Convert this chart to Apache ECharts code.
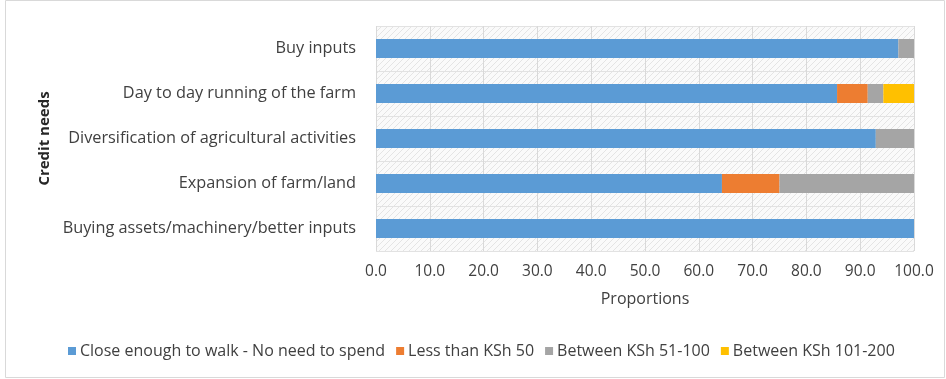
<!DOCTYPE html>
<html><head><meta charset="utf-8">
<script src="https://cdn.jsdelivr.net/npm/echarts@6/dist/echarts.min.js"></script>
<style>html,body{margin:0;padding:0;background:#fff}#c{width:946px;height:379px}</style>
</head><body><div id="c"></div>
<script>
var categories = ["Buy inputs", "Day to day running of the farm", "Diversification of agricultural activities", "Expansion of farm/land", "Buying assets/machinery/better inputs"];
var seriesNames = ["Close enough to walk - No need to spend", "Less than KSh 50", "Between KSh 51-100", "Between KSh 101-200"];
var walk = [97.1, 85.7, 92.9, 64.3, 100.0];
var lessThan50 = [0, 5.7, 0, 10.7, 0];
var between51_100 = [2.9, 2.9, 7.1, 25.0, 0];
var between101_200 = [0, 5.7, 0, 0, 0];
var xTicks = [0, 10, 20, 30, 40, 50, 60, 70, 80, 90, 100];
var colors = ["#5B9BD5", "#ED7D31", "#A5A5A5", "#FFC000"];

var pc = document.createElement('canvas');
pc.width = 6; pc.height = 6;
var g = pc.getContext('2d');
g.fillStyle = '#fafafa'; g.fillRect(0,0,6,6);
g.strokeStyle = '#e4e4e4'; g.lineWidth = 1;
g.beginPath(); g.moveTo(0,6); g.lineTo(6,0); g.stroke();
g.beginPath(); g.moveTo(-1,1); g.lineTo(1,-1); g.stroke();
g.beginPath(); g.moveTo(5,7); g.lineTo(7,5); g.stroke();

var allData = [walk, lessThan50, between51_100, between101_200];
var chart = echarts.init(document.getElementById('c'));
var font = "'Open Sans', sans-serif";
var txt = '#404040';
chart.setOption({
  animation: false,
  textStyle: {fontFamily: font},
  color: colors,
  graphic: [{type: 'rect', shape: {x: 5.5, y: 0.5, width: 939, height: 377}, style: {fill: 'none', stroke: '#d9d9d9', lineWidth: 1}}],
  grid: {left: 376, right: 32, top: 26, bottom: 128, show: true, borderWidth: 0,
         backgroundColor: {image: pc, repeat: 'repeat'}},
  legend: {bottom: 15, left: 63, itemWidth: 8, itemHeight: 8, itemGap: 11,
           icon: 'rect', textStyle: {color: txt, fontSize: 16, fontFamily: font, padding: [0,0,0,-1]},
           data: seriesNames},
  xAxis: {type: 'value', min: 0, max: 100, interval: 10,
          axisLabel: {color: txt, fontSize: 15.5, margin: 13, formatter: function(v){return v.toFixed(1);}},
          axisLine: {show: false}, axisTick: {show: false},
          splitLine: {show: true, lineStyle: {color: '#d9d9d9', width: 1}},
          name: 'Proportions', nameLocation: 'middle', nameGap: 40,
          nameTextStyle: {color: txt, fontSize: 16}},
  yAxis: {type: 'category', data: categories, inverse: true,
          axisLabel: {color: txt, fontSize: 16.3, margin: 20},
          axisLine: {show: false}, axisTick: {show: false},
          splitLine: {show: true, lineStyle: {color: '#e2e2e2'}},
          name: 'Credit needs', nameLocation: 'middle', nameGap: 324, nameRotate: 90,
          nameTextStyle: {color: '#262626', fontSize: 15, fontWeight: 'bold'}},
  series: seriesNames.map(function(n, i){
    return {name: n, type: 'bar', stack: 'total', barWidth: 19, data: allData[i]};
  })
});
</script></body></html>
